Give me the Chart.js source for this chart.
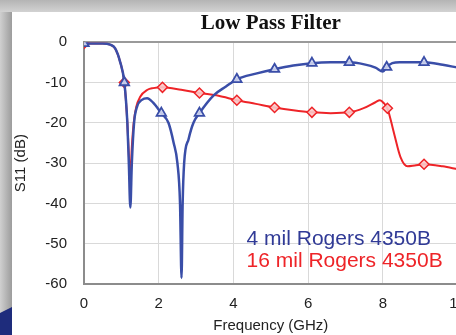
<!DOCTYPE html>
<html>
<head>
<meta charset="utf-8">
<script src="https://cdn.jsdelivr.net/npm/chart.js@4/dist/chart.umd.min.js"></script>
<style>
  html, body { margin: 0; padding: 0; background: #fff; overflow: hidden; }
  #wrap { position: relative; width: 456px; height: 335px; overflow: hidden; }
  #wrap canvas { position: absolute; left: 0; top: 0; }
</style>
</head>
<body>
<div id="wrap"><canvas id="c" width="477" height="335"></canvas></div>
<script>
  "use strict";

  const BLUE = "rgb(58, 78, 168)";
  const RED = "rgb(238, 36, 40)";
  const BLUE_TEXT = "rgb(48, 58, 150)";

  // 4 mil Rogers 4350B
  const blueFreq = [0, 0.3, 0.5, 0.7, 0.83, 0.97, 1.08, 1.16, 1.2, 1.24, 1.28, 1.34, 1.42, 1.55, 1.69, 1.85,
    2.07, 2.26, 2.4, 2.5, 2.57, 2.61, 2.64, 2.68, 2.8, 2.93, 3.09, 3.47, 3.8, 4.09, 4.6, 5.1, 5.6, 6.1,
    6.6, 7.1, 7.5, 7.8, 8.0, 8.1, 8.25, 8.45, 8.8, 9.1, 9.6, 10];
  const blueS11 = [-0.3, -0.3, -0.3, -0.6, -1.5, -5, -10, -20, -30, -41, -30, -20, -16, -14.3, -13.9, -15,
    -17.6, -20, -25, -30, -40, -58.5, -40, -30, -24, -20, -17.6, -13.2, -11, -9.2, -7.8, -6.7, -5.8, -5.2,
    -5.0, -5.0, -5.5, -6.3, -7.3, -6.2, -5.2, -5.0, -5.0, -5.0, -5.6, -6.3];
  const blueMarkFreq = [0, 1.08, 2.07, 3.09, 4.09, 5.1, 6.1, 7.1, 8.1, 9.1];
  const blueMarkS11 = [-0.3, -10, -17.6, -17.6, -9.2, -6.7, -5.2, -5.0, -6.2, -5.0];

  // 16 mil Rogers 4350B
  const redFreq = [0, 0.3, 0.5, 0.7, 0.83, 0.97, 1.08, 1.16, 1.2, 1.24, 1.28, 1.33, 1.4, 1.5, 1.7, 1.85,
    2.1, 2.6, 3.09, 3.6, 4.09, 4.6, 5.1, 5.6, 6.1, 6.6, 7.1, 7.5, 7.8, 7.92, 8.03, 8.12, 8.3, 8.47,
    8.66, 8.85, 9.1, 9.6, 10];
  const redS11 = [-0.3, -0.3, -0.3, -0.6, -1.5, -5, -10, -20, -28, -33, -26, -20, -16, -13.6, -11.8, -11.4,
    -11.2, -11.8, -12.6, -13.3, -14.4, -15.3, -16.2, -16.9, -17.4, -17.6, -17.4, -16.3, -14.9, -14.4, -15.2,
    -16.4, -22.7, -28.5, -30.8, -30.6, -30.3, -30.8, -31.5];
  const redMarkFreq = [0, 1.08, 2.1, 3.09, 4.09, 5.1, 6.1, 7.1, 8.12, 9.1];
  const redMarkS11 = [-0.3, -10, -11.2, -12.6, -14.4, -16.2, -17.4, -17.4, -16.4, -30.3];

  const legendLabels = ["4 mil Rogers 4350B", "16 mil Rogers 4350B"];

  function toPoints(xs, ys) {
    return xs.map((x, i) => ({ x, y: ys[i] }));
  }

  const framePlugin = {
    id: "frame",
    beforeDraw(chart) {
      const ctx = chart.ctx;
      const w = chart.width;
      const h = chart.height;
      ctx.save();
      ctx.fillStyle = "#fff";
      ctx.fillRect(0, 0, w, h);
      const top = ctx.createLinearGradient(0, 0, 0, 12);
      top.addColorStop(0, "#b4b4b4");
      top.addColorStop(1, "#d2d2d2");
      ctx.fillStyle = top;
      ctx.fillRect(0, 0, w, 12);
      const left = ctx.createLinearGradient(0, 0, 12, 0);
      left.addColorStop(0, "#d0d0d0");
      left.addColorStop(1, "#9c9c9c");
      ctx.fillStyle = left;
      ctx.fillRect(0, 12, 12, h - 12);
      ctx.fillStyle = "#1e2c7c";
      ctx.beginPath();
      ctx.moveTo(0, 313);
      ctx.lineTo(12, 307);
      ctx.lineTo(12, h);
      ctx.lineTo(0, h);
      ctx.closePath();
      ctx.fill();
      ctx.restore();
    },
  };

  const seriesTextPlugin = {
    id: "seriesText",
    afterDatasetsDraw(chart) {
      const ctx = chart.ctx;
      const x = chart.scales.x.getPixelForValue(4.35);
      const y = chart.scales.y.getPixelForValue(-48.8);
      ctx.save();
      ctx.font = '21px "Liberation Sans", Arial, sans-serif';
      ctx.textBaseline = "middle";
      ctx.textAlign = "left";
      ctx.fillStyle = BLUE_TEXT;
      ctx.fillText(legendLabels[0], x, y);
      ctx.fillStyle = RED;
      ctx.fillText(legendLabels[1], x, y + 22);
      ctx.restore();
    },
  };

  const tickFont = { family: '"Liberation Sans", Arial, sans-serif', size: 15 };

  new Chart(document.getElementById("c"), {
    type: "line",
    data: {
      datasets: [
        {
          data: toPoints(blueMarkFreq, blueMarkS11),
          showLine: false,
          pointStyle: "triangle",
          pointRadius: 5.5,
          pointBorderWidth: 1.8,
          pointBorderColor: BLUE,
          pointBackgroundColor: "rgba(210, 215, 240, 0.9)",
        },
        {
          data: toPoints(blueFreq, blueS11),
          borderColor: BLUE,
          borderWidth: 2.5,
          pointRadius: 0,
          cubicInterpolationMode: "monotone",
        },
        {
          data: toPoints(redMarkFreq, redMarkS11),
          showLine: false,
          pointStyle: "rectRot",
          pointRadius: 5,
          pointBorderWidth: 1.5,
          pointBorderColor: RED,
          pointBackgroundColor: "rgba(250, 200, 200, 0.9)",
        },
        {
          data: toPoints(redFreq, redS11),
          borderColor: RED,
          borderWidth: 2,
          pointRadius: 0,
          cubicInterpolationMode: "monotone",
        },
      ],
    },
    options: {
      responsive: false,
      animation: false,
      events: [],
      layout: { padding: { left: 12, top: 11, right: 0, bottom: 0 } },
      plugins: {
        legend: { display: false },
        tooltip: { enabled: false },
        title: {
          display: true,
          text: "Low Pass Filter",
          fullSize: false,
          color: "#111",
          font: { family: '"Liberation Serif", "Times New Roman", serif', size: 21, weight: "bold" },
          padding: { top: 0, bottom: 6 },
        },
      },
      scales: {
        x: {
          type: "linear",
          min: 0,
          max: 10,
          afterFit(scale) { scale.height = 51; },
          ticks: { stepSize: 2, color: "#222", font: tickFont, padding: 11, maxRotation: 0 },
          grid: { color: "#d9d9d9", lineWidth: 1, drawTicks: false },
          border: { color: "#8c8c8c", width: 2 },
          title: {
            display: true,
            text: "Frequency (GHz)",
            color: "#222",
            font: tickFont,
            padding: { top: 4, bottom: 0 },
          },
        },
        y: {
          min: -60,
          max: 0,
          afterFit(scale) { scale.width = 72; },
          ticks: { stepSize: 10, color: "#222", font: tickFont, padding: 17 },
          grid: {
            color: (c) => (c.tick && c.tick.value === 0 ? "#9a9a9a" : "#d9d9d9"),
            lineWidth: (c) => (c.tick && c.tick.value === 0 ? 2 : 1),
            drawTicks: false,
          },
          border: { color: "#8c8c8c", width: 2 },
          title: {
            display: true,
            text: "S11 (dB)",
            color: "#222",
            font: tickFont,
            padding: { top: 0, bottom: 0 },
          },
        },
      },
    },
    plugins: [framePlugin, seriesTextPlugin],
  });
</script>
</body>
</html>
